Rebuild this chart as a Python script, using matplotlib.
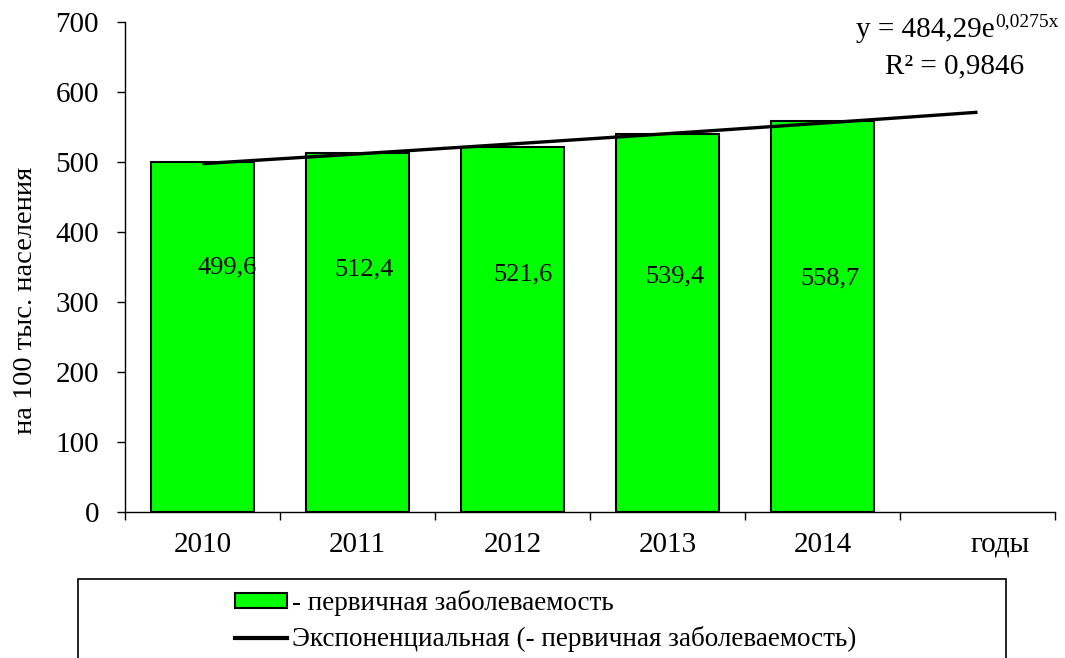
import numpy as np
import matplotlib
matplotlib.use("Agg")
import matplotlib.pyplot as plt
from matplotlib.patches import Rectangle, Patch
from matplotlib.lines import Line2D
from matplotlib.transforms import ScaledTranslation

plt.rcParams['font.family'] = ['Liberation Serif', 'DejaVu Serif']

# ---- data ----
categories = ['2010', '2011', '2012', '2013', '2014', 'годы']
values = [499.6, 512.4, 521.6, 539.4, 558.7]
value_labels = ['499,6', '512,4', '521,6', '539,4', '558,7']
ylabel = 'на 100 тыс. населения'
legend_bar = '- первичная заболеваемость'
legend_line = 'Экспоненциальная (- первичная заболеваемость)'
eq_main = 'y = 484,29e'
eq_sup = '0,0275x'
eq_r2 = 'R² = 0,9846'

# label placement (style, not data)
label_dx = [0.16, 0.045, 0.07, 0.05, 0.05]
label_y = [350, 347, 340, 337, 334]

W, H = 1065, 658
fig = plt.figure(figsize=(W / 100, H / 100), dpi=100)
ax = fig.add_axes([125 / W, 1 - 512.3 / H, 930 / W, 490.3 / H])

x = np.arange(len(values))
ax.bar(x, values, width=0.67, color='#00FF00', edgecolor='black', linewidth=1.5, zorder=2)

# exponential trend fitted from data (Excel x = 1..n), extended to 6th category
xi = np.arange(1, len(values) + 1)
b, lna = np.polyfit(xi, np.log(values), 1)
xt = np.linspace(1, len(categories), 100)
ax.plot(xt - 1, np.exp(lna) * np.exp(b * xt), color='black', linewidth=2.4, zorder=3,
        solid_capstyle='butt')

for i, (lab, dx, ly) in enumerate(zip(value_labels, label_dx, label_y)):
    ax.text(i + dx, ly, lab, ha='center', va='center', fontsize=19, zorder=4)

ax.set_xlim(-0.5, len(categories) - 0.5)
ax.set_ylim(0, 700)
ax.set_yticks(np.arange(0, 701, 100))
ax.set_xticks(np.arange(len(categories)))
ax.set_xticklabels(categories)
ax.set_xticks(np.arange(-0.5, len(categories), 1), minor=True)
ax.tick_params(axis='x', which='major', length=0, labelsize=21, pad=14)
ax.tick_params(axis='x', which='minor', length=6, width=1, direction='out')
ax.tick_params(axis='y', length=6, width=1, direction='out', labelsize=21, pad=12.7)
# the last label ("годы") sits a little right of its slot
last = ax.get_xticklabels()[-1]
last.set_transform(last.get_transform() + ScaledTranslation(0.225, 0, fig.dpi_scale_trans))
for s in ['top', 'right']:
    ax.spines[s].set_visible(False)
for s in ['left', 'bottom']:
    ax.spines[s].set_linewidth(1)
ax.text(-99 / 930, (512.3 - 300) / 490.3, ylabel, transform=ax.transAxes, rotation=90,
        ha='center', va='center', fontsize=20.5)

# equation text
t1 = fig.text(995 / W, 1 - 37 / H, eq_main, ha='right', va='baseline', fontsize=21)
ax.annotate(eq_sup, xy=(1, 1), xycoords=t1, ha='left', va='top', fontsize=14,
            xytext=(0, 3), textcoords='offset points')
fig.text(955 / W, 1 - 73 / H, eq_r2, ha='center', va='baseline', fontsize=21)

# legend box (extends beyond the bottom of the figure)
fig.patches.append(Rectangle((78 / W, -0.2), (1006 - 78) / W, 0.2 + 1 - 579 / H,
                             transform=fig.transFigure, fill=False, edgecolor='black',
                             linewidth=1.2))
handles = [Patch(facecolor='#00FF00', edgecolor='black', linewidth=1.5),
           Line2D([0], [0], color='black', linewidth=3)]
fig.legend(handles, [legend_bar, legend_line], loc='upper center',
           bbox_to_anchor=(546 / W, 1 - 571 / H), frameon=False, fontsize=19.5,
           handlelength=1.9, handleheight=0.45, handletextpad=0.2, labelspacing=0.38,
           borderpad=0.2, alignment='left')

fig.savefig('out.png', dpi=100)
